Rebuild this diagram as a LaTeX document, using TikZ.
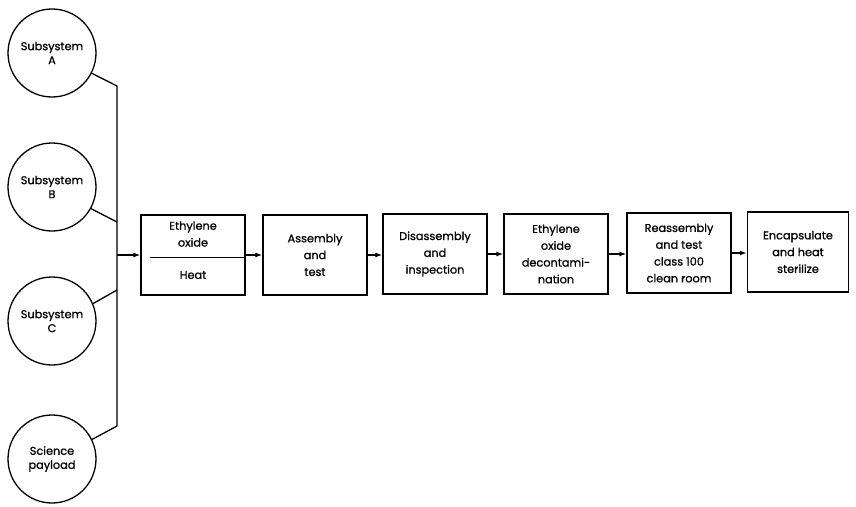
\documentclass[tikz,border=0pt]{standalone}
\usepackage{fontspec}
\setmainfont{Poppins}[BoldFont={Poppins},BoldFeatures={FakeBold=0.9}]
\usetikzlibrary{arrows.meta}
\begin{document}
\begin{tikzpicture}[x=1pt,y=-1pt,
  line width=1.3pt,
  unit/.style={circle,draw,minimum size=88pt,inner sep=0pt,align=center,
    font=\fontsize{11.3}{14}\selectfont\bfseries},
  stage/.style={draw,minimum width=104pt,minimum height=80pt,inner sep=0pt,
    align=center,font=\fontsize{11.3}{16.8}\selectfont\bfseries},
  feed/.style={-{Latex[length=7pt,width=5pt]}},
  wire/.style={line join=miter}]
\useasboundingbox (0,0) rectangle (856,506);
% subsystems feeding the common bus
\node[unit] (sa) at (52,53) {Subsystem\\A};
\node[unit] (sb) at (52,187) {Subsystem\\B};
\node[unit] (sc) at (52,321) {Subsystem\\C};
\node[unit] (sp) at (52,459) {Science\\payload};
\coordinate (bustop) at (117,86);
\coordinate (busb) at (117,222);
\coordinate (busc) at (117,290);
\coordinate (busbot) at (117,426);
\coordinate (busout) at (117,255);
% processing stages
\node[stage] (s1) at (193,255) {};
\node[stage] (s2) at (315,255) {Assembly\\and\\test};
\node[stage] (s3) at (435,254) {Disassembly\\and\\inspection};
\node[stage] (s4) at (556,254) {Ethylene\\oxide\\decontami-\\nation};
\node[stage] (s5) at (679,253) {Reassembly\\and test\\class 100\\clean room};
\node[stage,minimum width=101pt] (s6) at (798,252) {Encapsulate\\and heat\\sterilize};
% split first stage
\node[font=\fontsize{11.3}{16.8}\selectfont\bfseries,align=center] (s1top) at (193,234) {Ethylene\\oxide};
\node[font=\fontsize{11.3}{16.8}\selectfont\bfseries] (s1bot) at (193,275) {Heat};
\coordinate (divl) at (150,257);
\draw[line width=1pt] (divl) -- (divl -| s1.east);
% bus wiring
\draw[wire] (sa.-27) -- (bustop) -- (busbot) -- (sp.26);
\draw (sb.-29) -- (busb);
\draw (sc.23) -- (busc);
\draw[feed] (busout) -- (s1.west);
\draw[feed] (s1.east) -- (s2.west);
\draw[feed] (s2.east) -- (s2.east -| s3.west);
\draw[feed] (s3.east) -- (s3.east -| s4.west);
\draw[feed] (s4.east) -- (s4.east -| s5.west);
\draw[feed] (s5.east) -- (s5.east -| s6.west);
\end{tikzpicture}
\end{document}
